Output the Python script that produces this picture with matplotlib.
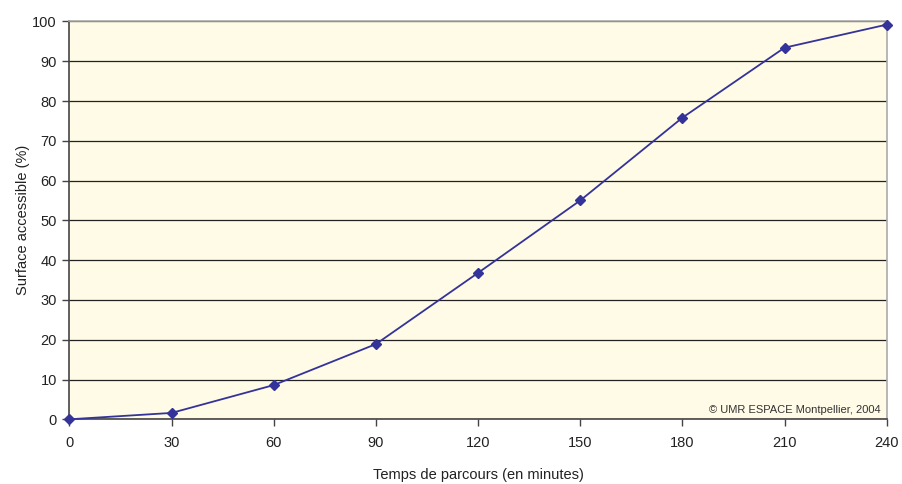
import matplotlib
matplotlib.use("Agg")
import matplotlib.pyplot as plt

plt.rcParams['font.family'] = ['Liberation Sans', 'DejaVu Sans']

# data
minutes = [0, 30, 60, 90, 120, 150, 180, 210, 240]
surface = [0, 1.6, 8.6, 18.9, 36.8, 55.0, 75.8, 93.4, 99.2]
x_ticks = [0, 30, 60, 90, 120, 150, 180, 210, 240]
y_ticks = [0, 10, 20, 30, 40, 50, 60, 70, 80, 90, 100]

fig = plt.figure(figsize=(9.02, 4.84), dpi=100)
ax = fig.add_axes([0.077, 0.1337, 0.906, 0.822])
ax.set_facecolor('#fffbe6')

ax.plot(minutes, surface, color='#333399', lw=1.3, marker='D', ms=5,
        mfc='#333399', mec='#333399', clip_on=False, zorder=3)

ax.set_xlim(0, 240)
ax.set_ylim(0, 100)
ax.set_xticks(x_ticks)
ax.set_yticks(y_ticks)
ax.yaxis.grid(True, color='#222222', lw=0.9)
ax.set_axisbelow(True)

for s in ['left', 'bottom']:
    ax.spines[s].set_color('#444444')
    ax.spines[s].set_linewidth(1.2)
for s in ['top', 'right']:
    ax.spines[s].set_color('#aaaaaa')
    ax.spines[s].set_linewidth(1.2)

ax.tick_params(axis='both', direction='out', length=5, width=1, color='#444444',
               labelsize=10.5, labelcolor='#222222')
ax.tick_params(axis='x', pad=7)
ax.tick_params(axis='y', pad=4)

ax.set_xlabel('Temps de parcours (en minutes)', fontsize=10.5, color='#222222', labelpad=13)
ax.set_ylabel('Surface accessible (%)', fontsize=10.5, color='#222222', labelpad=2)

ax.text(0.993, 0.012, '© UMR ESPACE Montpellier, 2004', transform=ax.transAxes,
        ha='right', va='bottom', fontsize=8, color='#333333')

fig.savefig('out.png', dpi=100)
